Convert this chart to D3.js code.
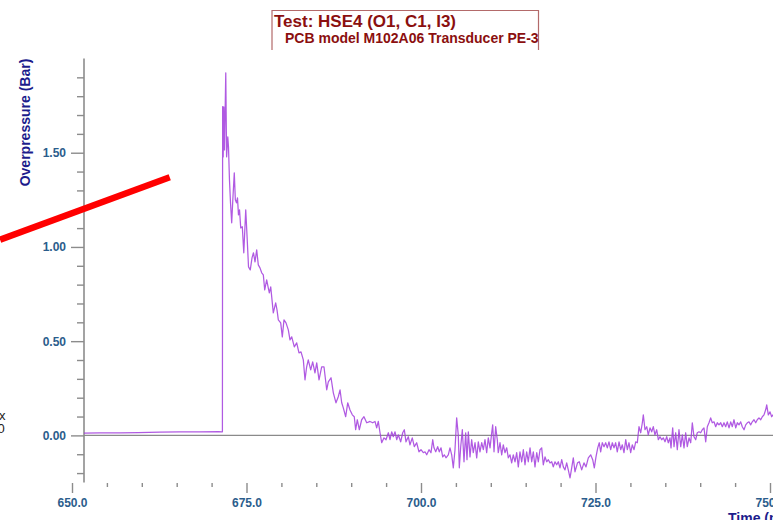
<!DOCTYPE html>
<html>
<head>
<meta charset="utf-8">
<script src="https://cdn.jsdelivr.net/npm/d3@7"></script>
<style>
  html, body { margin: 0; padding: 0; background: #ffffff; }
  svg { display: block; }
</style>
</head>
<body>
<svg id="chart" width="773" height="520"></svg>
<script>
// ---- Chart text ----
const titleText = "Test: HSE4 (O1, C1, I3)";
const subtitleText = "PCB model M102A06 Transducer PE-3";
const xLabel = "Time (ms)";
const yLabel = "Overpressure (Bar)";

// ---- Axis ticks ----
const xTickValues = [650, 675, 700, 725, 750];
const xMinorStep = 5;
const yTickValues = [0.0, 0.5, 1.0, 1.5];
const yMinorStep = 0.1;

// ---- Annotation stroke (time ms, overpressure bar) ----
const markerStart = [639.7, 1.038];
const markerEnd = [664.0, 1.37];

// ---- Pressure trace: [time (ms), overpressure (bar)] ----
const pressureTrace = [
  [651.72, 0.012], [654.0, 0.013], [656.9, 0.014], [659.5, 0.015], [662.6, 0.017],
  [665.4, 0.018], [668.3, 0.019], [671.0, 0.020], [671.50, 0.019],
  [671.55, 0.019], [671.58, 1.745], [671.66, 1.478], [671.75, 1.743], [671.85, 1.515],
  [672.03, 1.924], [672.15, 1.478], [672.32, 1.584], [672.42, 1.531], [672.56, 1.356],
  [672.71, 1.234], [672.88, 1.128], [673.04, 1.250], [673.25, 1.393], [673.40, 1.250],
  [673.57, 1.234], [673.71, 1.260], [673.85, 1.170], [674.00, 1.197], [674.17, 1.101],
  [674.40, 1.107], [674.61, 0.969], [674.89, 1.197], [675.07, 1.064], [675.29, 0.894],
  [675.54, 0.878], [675.79, 0.942], [676.00, 0.969], [676.22, 0.921], [676.46, 0.985],
  [676.69, 0.905], [676.93, 0.889], [677.18, 0.863], [677.41, 0.852], [677.61, 0.772],
  [677.89, 0.825], [678.12, 0.783], [678.27, 0.756], [678.47, 0.788], [678.84, 0.650],
  [679.18, 0.703], [679.37, 0.666], [679.56, 0.613], [679.90, 0.597], [680.13, 0.523],
  [680.37, 0.613], [680.66, 0.597], [680.99, 0.560], [681.23, 0.507], [681.48, 0.523],
  [681.85, 0.470], [682.19, 0.491], [682.52, 0.438], [682.81, 0.443], [683.14, 0.401],
  [683.38, 0.295], [683.62, 0.364], [683.85, 0.401], [684.20, 0.348], [684.48, 0.390],
  [684.81, 0.332], [685.06, 0.385], [685.39, 0.295], [685.77, 0.364], [686.10, 0.364],
  [686.49, 0.242], [686.72, 0.284], [687.11, 0.306], [687.44, 0.226], [687.82, 0.173],
  [688.15, 0.205], [688.40, 0.242], [688.64, 0.173], [688.87, 0.146], [689.21, 0.099],
  [689.50, 0.173], [689.83, 0.135], [690.16, 0.109], [690.44, 0.099], [690.64, 0.030],
  [690.87, 0.083], [691.16, 0.030], [691.50, 0.083], [691.83, 0.099], [692.22, 0.067],
  [692.55, 0.072], [692.69, 0.074], [693.08, 0.067],
  [693.41, 0.074], [693.65, 0.040], [693.88, 0.074], [694.13, 0.014], [694.37, -0.039],
  [694.70, -0.013], [694.99, -0.023], [695.32, 0.014], [695.56, -0.023], [695.80, 0.019],
  [696.03, -0.007], [696.28, 0.019], [696.52, -0.023], [696.75, 0.003], [697.09, -0.034],
  [697.38, 0.014], [697.61, 0.030], [697.85, -0.034], [698.18, -0.007], [698.42, -0.050],
  [698.75, -0.013], [699.04, -0.060], [699.38, -0.039], [699.71, -0.087], [700.00, -0.076],
  [700.33, -0.092], [700.57, -0.087], [700.82, -0.103], [701.15, -0.076], [701.43, -0.092],
  [701.68, -0.023], [701.86, -0.066], [702.11, -0.087], [702.39, -0.060], [702.62, -0.087],
  [702.87, -0.066], [703.11, -0.114], [703.34, -0.103], [703.58, -0.119], [703.91, -0.103],
  [704.15, -0.066], [704.40, -0.103], [704.63, -0.172], [704.87, -0.076], [705.11, 0.093],
  [705.34, 0.003], [705.49, -0.172], [705.69, -0.060], [705.92, 0.030], [706.16, -0.140],
  [706.40, 0.014], [706.59, -0.129], [706.78, 0.019], [707.02, -0.114], [707.26, -0.023],
  [707.49, -0.092], [707.74, -0.039], [707.98, -0.119], [708.21, -0.034], [708.45, -0.087],
  [708.70, -0.039], [708.93, -0.076], [709.17, -0.023], [709.41, -0.092], [709.64, -0.013],
  [709.89, -0.066], [710.13, 0.014], [710.27, 0.056], [710.46, -0.087], [710.70, 0.046],
  [710.93, -0.023], [711.07, -0.092], [711.32, -0.039], [711.56, -0.103], [711.79, -0.050],
  [712.03, -0.092], [712.28, -0.066], [712.51, -0.119], [712.75, -0.103], [712.99, -0.146],
  [713.22, -0.103], [713.47, -0.140], [713.71, -0.092], [713.94, -0.167], [714.18, -0.087],
  [714.43, -0.140], [714.66, -0.076], [714.90, -0.156], [715.14, -0.087], [715.37, -0.140],
  [715.62, -0.066], [715.86, -0.140], [716.09, -0.087], [716.33, -0.167], [716.58, -0.092],
  [716.81, -0.140], [717.05, -0.076], [717.29, -0.066], [717.52, -0.156], [717.77, -0.114],
  [718.01, -0.140], [718.24, -0.129], [718.48, -0.146], [718.73, -0.140], [718.95, -0.167],
  [719.20, -0.140], [719.44, -0.156], [719.67, -0.140], [719.91, -0.172], [720.16, -0.129],
  [720.39, -0.167], [720.63, -0.183], [720.87, -0.146], [721.10, -0.183], [721.35, -0.225],
  [721.59, -0.172], [721.82, -0.119], [722.06, -0.193], [722.42, -0.146], [722.68, -0.140],
  [723.02, -0.183], [723.35, -0.146], [723.64, -0.167], [723.97, -0.119], [724.31, -0.103],
  [724.60, -0.129], [724.83, -0.172], [725.07, -0.114], [725.32, -0.066], [725.54, -0.039],
  [725.74, -0.087], [725.97, -0.039], [726.22, -0.060], [726.46, -0.039], [726.69, -0.066],
  [726.93, -0.034], [727.18, -0.076], [727.41, -0.039], [727.65, -0.066], [727.89, -0.039],
  [728.12, -0.087], [728.37, -0.034], [728.61, -0.076], [728.84, -0.050], [729.08, -0.092],
  [729.33, -0.023], [729.56, -0.076], [729.80, -0.039], [730.04, -0.092], [730.27, -0.050],
  [730.52, -0.076], [730.76, -0.034], [730.99, -0.039], [731.23, 0.046], [731.48, 0.014],
  [731.71, 0.067], [731.85, 0.109], [732.09, 0.030], [732.34, 0.046], [732.56, 0.003],
  [732.81, 0.040], [733.05, 0.019], [733.28, 0.046], [733.52, 0.003], [733.77, 0.030],
  [734.00, -0.023], [734.24, -0.007], [734.48, -0.023], [734.71, -0.013], [734.96, -0.034],
  [735.20, -0.007], [735.43, -0.039], [735.67, -0.013], [735.82, -0.066], [736.06, 0.040],
  [736.25, -0.060], [736.49, 0.014], [736.72, -0.076], [736.96, 0.030], [737.21, -0.060],
  [737.44, 0.003], [737.68, -0.066], [737.92, 0.014], [738.15, -0.060], [738.40, -0.013],
  [738.64, -0.039], [738.87, 0.067], [739.11, -0.007], [739.36, -0.023], [739.58, 0.014],
  [739.83, 0.019], [740.07, 0.014], [740.30, 0.030], [740.54, 0.040], [740.79, -0.034],
  [741.02, 0.046], [741.26, 0.067], [741.50, 0.093], [741.73, 0.067], [741.98, 0.072],
  [742.22, 0.046], [742.45, 0.067], [742.69, 0.056], [742.94, 0.067], [743.17, 0.046],
  [743.41, 0.067], [743.65, 0.046], [743.88, 0.072], [744.13, 0.040], [744.37, 0.072],
  [744.60, 0.046], [744.84, 0.083], [745.09, 0.040], [745.32, 0.067], [745.56, 0.056],
  [745.80, 0.072], [746.03, 0.046], [746.28, 0.030], [746.52, 0.056], [746.75, 0.067],
  [746.99, 0.072], [747.24, 0.056], [747.46, 0.072], [747.71, 0.083], [747.95, 0.067],
  [748.18, 0.083], [748.42, 0.093], [748.67, 0.083], [748.90, 0.099], [749.14, 0.109],
  [749.38, 0.136], [749.53, 0.162], [749.76, 0.109], [750.00, 0.125], [750.24, 0.099],
  [750.43, 0.109], [750.70, 0.104]
];

// ---- Layout ----
const W = 773, H = 520;
const svg = d3.select("#chart");
const fontFamily = "'Liberation Sans', Arial, Helvetica, sans-serif";
const tickColor = "#8c8c8c";
const tickTextColor = "#2b5d8c";
const labelColor = "#1c1c8c";
const titleColor = "#8b0f0f";

const x = d3.scaleLinear().domain([650, 750]).range([72, 770]);
const y = d3.scaleLinear().domain([-0.25, 2.0]).range([482.5, 58.5]);
const yAxisX = 84;
const xTickTop = 483;

// clip region for the trace (right of the vertical axis)
svg.append("defs").append("clipPath").attr("id", "plotClip")
  .append("rect").attr("x", yAxisX).attr("y", 0).attr("width", W - yAxisX).attr("height", H);

// ---- Y axis ----
const yMinor = d3.range(-0.2, 2.0 - 1e-9, yMinorStep)
  .map(v => +v.toFixed(2))
  .filter(v => !yTickValues.some(t => Math.abs(t - v) < 1e-6));

const yMinorG = svg.append("g").attr("transform", `translate(${yAxisX},0)`)
  .call(d3.axisLeft(y).tickValues(yMinor).tickSize(7).tickFormat(""));
const yMajorG = svg.append("g").attr("transform", `translate(${yAxisX},0)`)
  .call(d3.axisLeft(y).tickValues(yTickValues).tickSize(13).tickPadding(5)
    .tickFormat(d3.format(".2f")));

[yMinorG, yMajorG].forEach(g => {
  g.select(".domain").remove();
  g.selectAll(".tick line").attr("stroke", tickColor).attr("stroke-width", 1.4);
});
yMajorG.selectAll(".tick text")
  .attr("fill", tickTextColor)
  .style("font-family", fontFamily).style("font-size", "12px").style("font-weight", "bold");

svg.append("line")
  .attr("x1", yAxisX).attr("x2", yAxisX)
  .attr("y1", y(2.0)).attr("y2", y(-0.25))
  .attr("stroke", tickColor).attr("stroke-width", 1.6);

// ---- X axis (ticks only, no base line) ----
const xMinor = d3.range(650, 750 + 1e-9, xMinorStep)
  .filter(v => !xTickValues.includes(v));

const xMinorG = svg.append("g").attr("transform", `translate(0,${xTickTop})`)
  .call(d3.axisBottom(x).tickValues(xMinor).tickSize(4).tickFormat(""));
const xMajorG = svg.append("g").attr("transform", `translate(0,${xTickTop})`)
  .call(d3.axisBottom(x).tickValues(xTickValues).tickSize(10).tickPadding(5)
    .tickFormat(d3.format(".1f")));

[xMinorG, xMajorG].forEach(g => {
  g.select(".domain").remove();
  g.selectAll(".tick line").attr("stroke", tickColor).attr("stroke-width", 1.4);
});
xMajorG.selectAll(".tick text")
  .attr("fill", tickTextColor)
  .style("font-family", fontFamily).style("font-size", "12px").style("font-weight", "bold");

// ---- Zero reference line ----
svg.append("line")
  .attr("x1", yAxisX).attr("x2", W)
  .attr("y1", y(0)).attr("y2", y(0))
  .attr("stroke", "#8a8a8a").attr("stroke-width", 1.4);

// ---- Pressure trace ----
const line = d3.line().x(d => x(d[0])).y(d => y(d[1]));
svg.append("path")
  .datum(pressureTrace)
  .attr("clip-path", "url(#plotClip)")
  .attr("d", line)
  .attr("fill", "none")
  .attr("stroke", "#a23ddd")
  .attr("stroke-width", 1.25)
  .attr("stroke-opacity", 0.85)
  .attr("stroke-linejoin", "round");

// ---- Axis titles ----
svg.append("text")
  .attr("transform", `translate(30,${(58 + 187) / 2}) rotate(-90)`)
  .attr("text-anchor", "middle")
  .attr("fill", labelColor)
  .style("font-family", fontFamily).style("font-size", "14px").style("font-weight", "bold")
  .text(yLabel);

svg.append("text")
  .attr("x", 728).attr("y", 523)
  .attr("fill", labelColor)
  .style("font-family", fontFamily).style("font-size", "14px").style("font-weight", "bold")
  .text(xLabel);

// ---- Title box ----
svg.append("path")
  .attr("d", "M272,50 L272,10.5 L538.5,10.5 L538.5,50")
  .attr("fill", "none")
  .attr("stroke", "#b36a6a")
  .attr("stroke-width", 1.2);

svg.append("text")
  .attr("x", 274).attr("y", 27)
  .attr("fill", titleColor)
  .style("font-family", fontFamily).style("font-size", "17px").style("font-weight", "bold")
  .text(titleText);

svg.append("text")
  .attr("x", 285).attr("y", 42.5)
  .attr("fill", titleColor)
  .style("font-family", fontFamily).style("font-size", "14px").style("font-weight", "bold")
  .text(subtitleText);

// ---- Glyphs of a side legend entering from the left edge ----
svg.append("text").attr("x", -1).attr("y", 419.5)
  .attr("fill", "#222").style("font-family", fontFamily).style("font-size", "13px")
  .text("x");
svg.append("text").attr("x", -2.5).attr("y", 433)
  .attr("fill", "#222").style("font-family", fontFamily).style("font-size", "13px")
  .text("0");

// ---- Red annotation stroke ----
svg.append("line")
  .attr("x1", x(markerStart[0])).attr("y1", y(markerStart[1]))
  .attr("x2", x(markerEnd[0])).attr("y2", y(markerEnd[1]))
  .attr("stroke", "#ff0000").attr("stroke-width", 6.5);
</script>
</body>
</html>
